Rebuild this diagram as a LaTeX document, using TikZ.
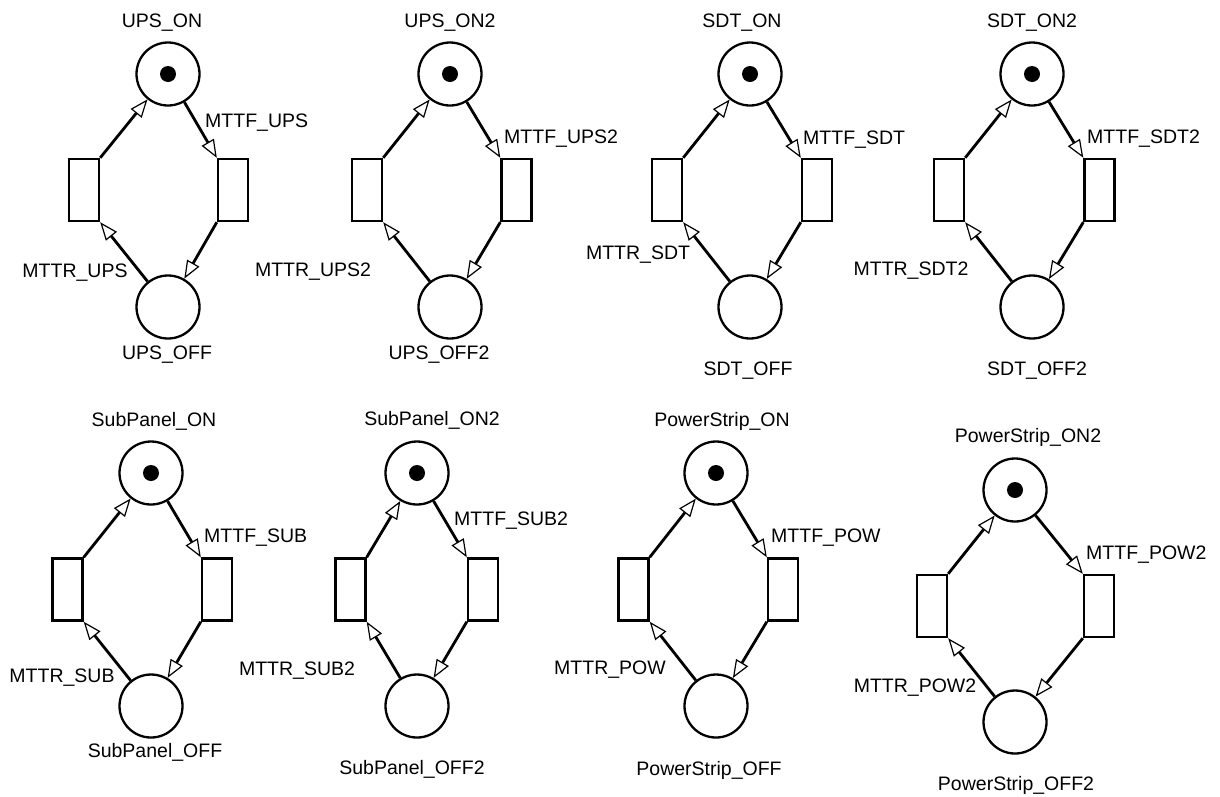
\documentclass[tikz,border=0pt]{standalone}
\usepackage{fontspec}
\setmainfont{Liberation Sans}
\usetikzlibrary{arrows.meta}

\tikzset{
  place/.style={circle, draw, line width=2.3pt, minimum size=63pt, inner sep=0pt},
  trans/.style={rectangle, draw, line width=2.4pt, minimum width=30pt, minimum height=62pt, inner sep=0pt},
  token/.style={circle, fill=black, minimum size=16pt, inner sep=0pt},
  arc/.style={line width=2.8pt, -{Triangle[open, length=18pt, width=14pt, line width=1.2pt]}},
  lbl/.style={inner sep=0pt, font=\fontsize{19.5}{23}\selectfont},
}

% One two-state net: #1 id, #2 x of the places, #3 y of the marked place,
% #4 x of the repair transition, #5 x of the failure transition,
% #6 y of the transitions, #7 y of the unmarked place
\newcommand{\pnet}[7]{%
  \node[place] (#1on) at (#2,#3) {};
  \node[token] (#1tok) at (#2,#3) {};
  \node[place] (#1off) at (#2,#7) {};
  \node[trans] (#1rep) at (#4,#6) {};
  \node[trans] (#1fail) at (#5,#6) {};
  \draw[arc] (#1on) -- (#1fail.north west);
  \draw[arc] (#1fail.south west) -- (#1off);
  \draw[arc] (#1off) -- (#1rep.south east);
  \draw[arc] (#1rep.north east) -- (#1on);
}

\begin{document}
\begin{tikzpicture}[x=1pt, y=-1pt]
\useasboundingbox (0,0) rectangle (1220,796);
\fill[white] (0,0) rectangle (1220,796);

% top row
\pnet{a}{168}{74}{84}{233}{190}{307}
\pnet{b}{450}{74}{367}{516.5}{190}{307}
\pnet{c}{750}{74}{667}{817}{190}{307}
\pnet{d}{1032}{74}{949}{1099.5}{190}{307}
% bottom row
\pnet{e}{151}{473}{67.5}{217}{589.5}{706}
\pnet{f}{417}{473}{350.5}{483}{589.5}{706}
\pnet{g}{716}{473}{633.5}{783}{589.5}{706}
\pnet{h}{1015}{490}{932}{1099}{606}{722}

% labels, top row
\node[lbl, anchor=base] (aonl) at (162,27) {UPS\_ON};
\node[lbl, anchor=base west] (afl) at (205,127) {MTTF\_UPS};
\node[lbl, anchor=base] (arl) at (75,277) {MTTR\_UPS};
\node[lbl, anchor=base] (aoffl) at (167,359) {UPS\_OFF};

\node[lbl, anchor=base] (bonl) at (450,27) {UPS\_ON2};
\node[lbl, anchor=base west] (bfl) at (504,143) {MTTF\_UPS2};
\node[lbl, anchor=base] (brl) at (313,276) {MTTR\_UPS2};
\node[lbl, anchor=base] (boffl) at (439,359) {UPS\_OFF2};

\node[lbl, anchor=base] (conl) at (742,27) {SDT\_ON};
\node[lbl, anchor=base west] (cfl) at (803,144) {MTTF\_SDT};
\node[lbl, anchor=base] (crl) at (638,259) {MTTR\_SDT};
\node[lbl, anchor=base] (coffl) at (748,375) {SDT\_OFF};

\node[lbl, anchor=base] (donl) at (1032,27) {SDT\_ON2};
\node[lbl, anchor=base west] (dfl) at (1087,143) {MTTF\_SDT2};
\node[lbl, anchor=base] (drl) at (911,275) {MTTR\_SDT2};
\node[lbl, anchor=base] (doffl) at (1037,375) {SDT\_OFF2};

% labels, bottom row
\node[lbl, anchor=base] (eonl) at (154,426) {SubPanel\_ON};
\node[lbl, anchor=base west] (efl) at (204,542) {MTTF\_SUB};
\node[lbl, anchor=base] (erl) at (62,682) {MTTR\_SUB};
\node[lbl, anchor=base] (eoffl) at (155,757) {SubPanel\_OFF};

\node[lbl, anchor=base] (fonl) at (432,425) {SubPanel\_ON2};
\node[lbl, anchor=base west] (ffl) at (454,525) {MTTF\_SUB2};
\node[lbl, anchor=base] (frl) at (297,675) {MTTR\_SUB2};
\node[lbl, anchor=base] (foffl) at (412,774) {SubPanel\_OFF2};

\node[lbl, anchor=base] (gonl) at (722,426) {PowerStrip\_ON};
\node[lbl, anchor=base west] (gfl) at (771,542) {MTTF\_POW};
\node[lbl, anchor=base] (grl) at (610,674) {MTTR\_POW};
\node[lbl, anchor=base] (goffl) at (709,775) {PowerStrip\_OFF};

\node[lbl, anchor=base] (honl) at (1028,442) {PowerStrip\_ON2};
\node[lbl, anchor=base west] (hfl) at (1086,559) {MTTF\_POW2};
\node[lbl, anchor=base] (hrl) at (915,692) {MTTR\_POW2};
\node[lbl, anchor=base] (hoffl) at (1016,790) {PowerStrip\_OFF2};
\end{tikzpicture}
\end{document}
